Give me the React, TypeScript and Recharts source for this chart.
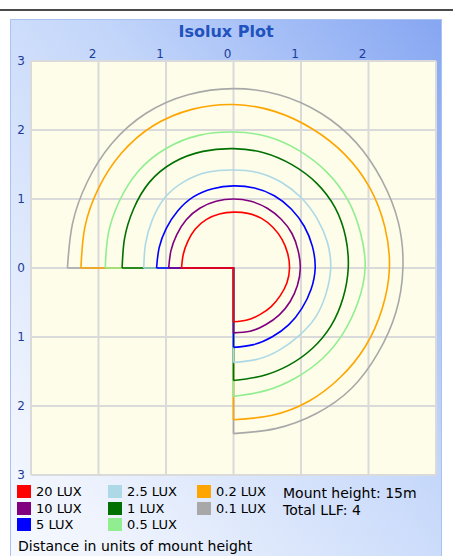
import React from 'react'
import { CartesianGrid, Line, LineChart, ReferenceLine, XAxis, YAxis } from 'recharts'

// angles (deg) at which the contour radius was read, going left -> over the top -> down to the bottom
const angles = [180, 165, 150, 135, 120, 105, 90, 75, 60, 45, 30, 15, 0, -15, -30, -45, -60, -75, -90]

const r20 = [0.77, 0.77, 0.78, 0.8, 0.81, 0.81, 0.81, 0.82, 0.83, 0.83, 0.83, 0.83, 0.83, 0.82, 0.8, 0.79, 0.78, 0.78, 0.78]
const r10 = [0.96, 0.96, 0.97, 0.99, 1.0, 1.0, 1.0, 1.0, 1.0, 1.0, 1.0, 0.99, 0.99, 0.98, 0.97, 0.96, 0.95, 0.95, 0.94]
const r5 = [1.14, 1.14, 1.15, 1.17, 1.19, 1.19, 1.19, 1.2, 1.21, 1.21, 1.21, 1.21, 1.21, 1.19, 1.17, 1.16, 1.15, 1.15, 1.15]
const r2_5 = [1.33, 1.35, 1.39, 1.44, 1.45, 1.44, 1.42, 1.43, 1.43, 1.43, 1.43, 1.44, 1.44, 1.42, 1.41, 1.38, 1.37, 1.37, 1.37]
const r1 = [1.65, 1.67, 1.71, 1.76, 1.77, 1.75, 1.73, 1.73, 1.73, 1.74, 1.74, 1.72, 1.7, 1.68, 1.67, 1.65, 1.63, 1.62, 1.63]
const r0_5 = [1.9, 1.92, 1.95, 1.99, 2.0, 1.99, 1.97, 1.97, 1.96, 1.96, 1.96, 1.95, 1.95, 1.91, 1.88, 1.86, 1.84, 1.84, 1.86]
const r0_2 = [2.26, 2.28, 2.31, 2.35, 2.38, 2.38, 2.37, 2.35, 2.33, 2.33, 2.33, 2.32, 2.31, 2.28, 2.26, 2.24, 2.23, 2.21, 2.2]
const r0_1 = [2.46, 2.47, 2.5, 2.55, 2.59, 2.6, 2.6, 2.6, 2.59, 2.57, 2.54, 2.53, 2.51, 2.49, 2.47, 2.47, 2.44, 2.41, 2.4]

const luxLabels = ['20 LUX', '10 LUX', '5 LUX', '2.5 LUX', '1 LUX', '0.5 LUX', '0.2 LUX', '0.1 LUX']
const luxColors = ['#ff0000', '#800080', '#0000ff', '#add8e6', '#007000', '#90ee90', '#ffa500', '#a8a8a8']
const luxRadii = [r20, r10, r5, r2_5, r1, r0_5, r0_2, r0_1]

const xTicks = [-2, -1, 0, 1, 2]
const yTicks = [-3, -2, -1, 0, 1, 2, 3]

const mountHeight = '15m'
const totalLLF = 4

const toArc = (radii: number[]) =>
  angles.map((a, i) => ({
    x: radii[i] * Math.cos((a * Math.PI) / 180),
    y: radii[i] * Math.sin((a * Math.PI) / 180),
  }))

// the two straight edges along the axes: left end -> origin -> bottom end
const toEdges = (radii: number[]) => {
  const arc = toArc(radii)
  return [arc[0], { x: 0, y: 0 }, arc[arc.length - 1]]
}

const tickFont = { fill: '#1c3c9a', fontSize: 12, fontFamily: 'DejaVu Sans' }

const TopTick = (props: any) => {
  const { x, y, payload } = props
  return (
    <text x={x - 2} y={y} textAnchor="end" {...tickFont}>
      {Math.abs(payload.value)}
    </text>
  )
}

const LeftTick = (props: any) => {
  const { x, y, payload } = props
  return (
    <text x={x} y={y + 4} textAnchor="end" {...tickFont}>
      {Math.abs(payload.value)}
    </text>
  )
}

export default function App() {
  const series = luxRadii.map((r, i) => ({ name: luxLabels[i], color: luxColors[i], arc: toArc(r), edges: toEdges(r) }))
  // outer contours drawn first so the small ones sit on top
  const drawOrder = [...series].reverse()

  return (
    <div style={{ position: 'absolute', left: 0, top: 0, width: 453, height: 556, overflow: 'hidden', background: '#fff', fontFamily: 'DejaVu Sans' }}>
      <div style={{ position: 'absolute', left: 0, top: 9, width: 453, height: 2, background: '#4a4a4a' }} />
      <div
        style={{
          position: 'absolute',
          left: 10,
          top: 19,
          width: 430,
          height: 545,
          border: '1px solid #a9c2f0',
          background: 'linear-gradient(to bottom left, #86a6f2 0%, #c3d6fa 40%, #eef3fd 85%, #f6f9fe 100%)',
        }}
      />
      <div style={{ position: 'absolute', left: 10, top: 22, width: 432, textAlign: 'center', fontWeight: 'bold', fontSize: 16, color: '#2152bd' }}>
        Isolux Plot
      </div>

      <div style={{ position: 'absolute', left: 0, top: 0 }}>
        <LineChart width={453} height={556} margin={{ top: 31, right: 17, bottom: 81, left: 1 }}>
          <CartesianGrid fill="#fdfde9" stroke="#dadada" strokeWidth={2} />
          <XAxis
            dataKey="x"
            type="number"
            orientation="top"
            domain={[-3, 3]}
            ticks={xTicks}
            height={30}
            axisLine={false}
            tickLine={false}
            tickSize={0}
            tickMargin={3}
            tick={<TopTick />}
            allowDataOverflow
          />
          <YAxis
            dataKey="y"
            type="number"
            domain={[-3, 3]}
            ticks={yTicks}
            width={30}
            axisLine={false}
            tickLine={false}
            tickSize={0}
            tickMargin={6}
            tick={<LeftTick />}
            allowDataOverflow
          />
          <ReferenceLine x={-3} stroke="#dadada" strokeWidth={2} />
          <ReferenceLine x={3} stroke="#dadada" strokeWidth={2} />
          {drawOrder.map((s) => [
            <Line
              key={s.name + '-edges'}
              data={s.edges}
              dataKey="y"
              type="linear"
              stroke={s.color}
              strokeWidth={1.6}
              dot={false}
              activeDot={false}
              isAnimationActive={false}
            />,
            <Line
              key={s.name + '-arc'}
              data={s.arc}
              dataKey="y"
              type="natural"
              stroke={s.color}
              strokeWidth={1.6}
              dot={false}
              activeDot={false}
              isAnimationActive={false}
            />,
          ])}
        </LineChart>
      </div>

      {series.map((s, i) => {
        const col = Math.floor(i / 3)
        const row = i % 3
        const left = [17, 108, 197][col]
        return (
          <div key={s.name} style={{ position: 'absolute', left, top: 484 + row * 16.5, height: 15, display: 'flex', alignItems: 'center', fontSize: 13, color: '#000' }}>
            <div style={{ width: 14, height: 13, background: s.color, marginRight: 5 }} />
            <span>{s.name}</span>
          </div>
        )
      })}
      <div style={{ position: 'absolute', left: 283, top: 485, fontSize: 14, lineHeight: '17px', color: '#000' }}>
        <div>Mount height: {mountHeight}</div>
        <div>Total LLF: {totalLLF}</div>
      </div>
      <div style={{ position: 'absolute', left: 18, top: 538, fontSize: 14, color: '#000' }}>
        Distance in units of mount height
      </div>
    </div>
  )
}
